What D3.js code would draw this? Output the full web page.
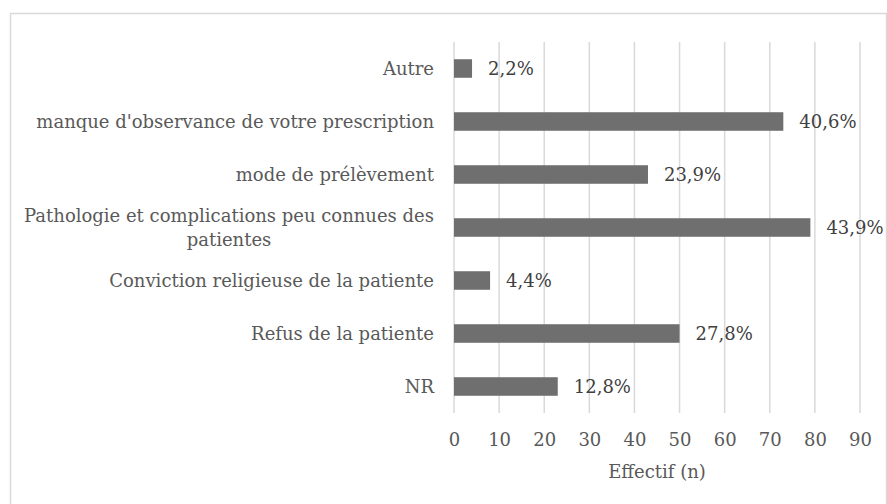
<!DOCTYPE html>
<html>
<head>
<meta charset="utf-8">
<script src="https://cdn.jsdelivr.net/npm/d3@7"></script>
<style>
  body { margin: 0; background: #fff; }
  svg { display: block; font-family: "DejaVu Serif", "Liberation Serif", serif; }
</style>
</head>
<body>
<div class="viz"></div>
<script>
// reasons, top to bottom
var categories = [
  "Autre",
  "manque d'observance de votre prescription",
  "mode de prélèvement",
  "Pathologie et complications peu connues des patientes",
  "Conviction religieuse de la patiente",
  "Refus de la patiente",
  "NR"
];
var counts = [4, 73, 43, 79, 8, 50, 23];
var percentLabels = ["2,2%", "40,6%", "23,9%", "43,9%", "4,4%", "27,8%", "12,8%"];
var xTicks = [0, 10, 20, 30, 40, 50, 60, 70, 80, 90];
var xTitle = "Effectif (n)";

var width = 887, height = 504;
var margin = { top: 42, right: 27, bottom: 91, left: 454 };
var innerH = height - margin.top - margin.bottom;
var fontSize = 18;

var svg = d3.select(".viz").append("svg").attr("width", width).attr("height", height);

// chart frame
svg.append("rect")
  .attr("x", 10.5).attr("y", 13.5)
  .attr("width", 876).attr("height", 500)
  .attr("fill", "none").attr("stroke", "#d9d9d9").attr("stroke-width", 1.5);

var g = svg.append("g").attr("transform", "translate(" + margin.left + "," + margin.top + ")");

var x = d3.scaleLinear().domain([0, 90]).range([0, 406]);
var y = d3.scaleBand().domain(categories).range([0, innerH]).paddingInner(0.65).paddingOuter(0.325);

// gridlines
g.selectAll("line.grid").data(xTicks).enter().append("line")
  .attr("class", "grid")
  .attr("x1", function (d) { return x(d); })
  .attr("x2", function (d) { return x(d); })
  .attr("y1", 0).attr("y2", innerH)
  .attr("stroke", "#d9d9d9").attr("stroke-width", 1.5);

// bars
g.selectAll("rect.bar").data(counts).enter().append("rect")
  .attr("class", "bar")
  .attr("x", x(0))
  .attr("y", function (d, i) { return y(categories[i]); })
  .attr("width", function (d) { return x(d) - x(0); })
  .attr("height", y.bandwidth())
  .attr("fill", "#6f6f6f");

// value labels
g.selectAll("text.val").data(counts).enter().append("text")
  .attr("class", "val")
  .attr("x", function (d) { return x(d) + 16; })
  .attr("y", function (d, i) { return y(categories[i]) + y.bandwidth() / 2; })
  .attr("dy", "0.35em")
  .attr("font-size", fontSize)
  .attr("fill", "#404040")
  .text(function (d, i) { return percentLabels[i]; });

// x axis
var xAxis = g.append("g")
  .attr("transform", "translate(0," + innerH + ")")
  .call(d3.axisBottom(x).tickValues(xTicks).tickSize(0).tickPadding(20));
xAxis.attr("font-family", null).attr("font-size", fontSize);
xAxis.select(".domain").remove();
xAxis.selectAll("text").attr("fill", "#595959");

// y labels, wrapped when too long
var yAxis = g.append("g").attr("transform", "translate(-20,0)");
categories.forEach(function (c, i) {
  var cy = y(c) + y.bandwidth() / 2;
  var t = yAxis.append("text")
    .attr("font-size", fontSize).attr("fill", "#595959")
    .attr("text-anchor", "end");
  if (c.length > 45) {
    var parts = [c.slice(0, c.lastIndexOf(" ")), c.slice(c.lastIndexOf(" ") + 1)];
    t.append("tspan").attr("x", 0).attr("y", cy - 12).attr("dy", "0.35em").text(parts[0]);
    var w = t.select("tspan").node().getComputedTextLength();
    t.append("tspan").attr("x", -w / 2).attr("y", cy + 12).attr("dy", "0.35em")
      .attr("text-anchor", "middle").text(parts[1]);
  } else {
    t.attr("x", 0).attr("y", cy).attr("dy", "0.35em").text(c);
  }
});

// axis title
g.append("text")
  .attr("x", x(45)).attr("y", innerH + 59)
  .attr("dy", "0.35em")
  .attr("text-anchor", "middle")
  .attr("font-size", fontSize).attr("fill", "#595959")
  .text(xTitle);
</script>
</body>
</html>
